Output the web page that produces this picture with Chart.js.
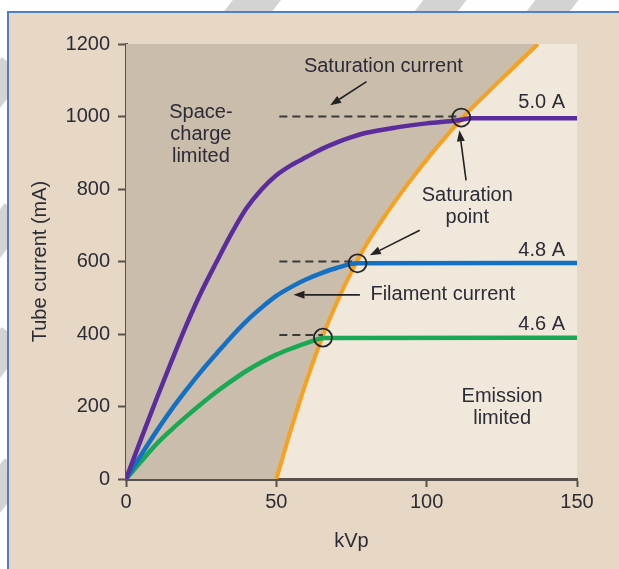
<!DOCTYPE html>
<html><head><meta charset="utf-8">
<script src="https://cdn.jsdelivr.net/npm/chart.js@4.4.1/dist/chart.umd.min.js"></script>
<style>
html,body{margin:0;padding:0;background:#fff;}
#wrap{position:relative;width:619px;height:569px;overflow:hidden;background:#fff;}
.wm{position:absolute;background:#d3d3d3;transform:rotate(38deg);}
#frame{position:absolute;left:7px;top:11px;width:640px;height:600px;background:#e6d8c4;border-left:2px solid #4f7fc4;border-top:2px solid #4f7fc4;}
canvas{position:absolute;left:0;top:0;}
</style></head><body>
<div id="wrap">
  <div class="wm" style="left:238px;top:-40px;width:38px;height:80px"></div>
  <div class="wm" style="left:428px;top:-40px;width:34px;height:80px"></div>
  <div class="wm" style="left:540px;top:-40px;width:34px;height:80px"></div>
  <div class="wm" style="left:-20px;top:60px;width:30px;height:60px"></div>
  <div class="wm" style="left:-20px;top:205px;width:30px;height:70px"></div>
  <div class="wm" style="left:-20px;top:330px;width:30px;height:60px"></div>
  <div class="wm" style="left:-20px;top:460px;width:30px;height:70px"></div>
  <div id="frame"></div>
  <canvas id="c" width="619" height="569"></canvas>
</div>
<script>
// ---- data ----
const xTicks = [0, 50, 100, 150];
const yTicks = [0, 200, 400, 600, 800, 1000, 1200];

const kvp50A = [0, 5, 10, 15, 20, 25, 30, 35, 40, 45, 50, 55, 60, 65, 70, 75, 80, 90, 100, 110, 115, 150];
const mA50A  = [0, 110, 218, 322, 423, 515, 597, 676, 746, 798, 838, 866, 888, 910, 928, 943, 955, 970, 981, 989, 995, 995];

const kvp48A = [0, 5, 10, 15, 20, 25, 30, 35, 40, 45, 50, 55, 60, 65, 70, 77, 150];
const mA48A  = [0, 66, 130, 190, 245, 297, 345, 392, 435, 472, 505, 530, 551, 568, 582, 595, 596];

const kvp46A = [0, 5, 10, 15, 20, 25, 30, 35, 40, 45, 50, 55, 60, 66, 150];
const mA46A  = [0, 48, 95, 135, 172, 207, 240, 270, 298, 322, 343, 360, 375, 389, 390];

const kvpEmission = [50, 55, 60, 65, 70, 75, 80, 85, 90, 95, 100, 105, 111.5, 120, 130, 137];
const mAEmission  = [0, 140, 270, 385, 485, 572, 648, 712, 772, 828, 881, 931, 993, 1064, 1144, 1200];

const spaceChargeKvp = [0, 50.5];
const spaceChargeMA  = [0, 0];

const saturationLevels = [1000, 600, 397];
const saturationStartKvp = 51;
const satPointKvp = [111.5, 77, 65.5];
const satPointMA  = [997, 595, 390];

const arrowFrom = [[80, 1096], [113.1, 824], [97.7, 686], [77.8, 508]];
const arrowTo   = [[67.9, 1031], [110.9, 962], [81.1, 617], [55.7, 508]];

const noteText  = [['Saturation current'], ['Space-', 'charge', 'limited'], ['5.0 A'], ['Saturation', 'point'], ['4.8 A'], ['Filament current'], ['4.6 A'], ['Emission', 'limited']];
const noteKvp   = [85.6, 24.9, 146, 113.5, 146, 81.3, 146, 125.1];
const noteMA    = [1139, 951, 1040, 752, 631, 510, 427, 197];
const noteAlign = ['center', 'center', 'right', 'center', 'right', 'left', 'right', 'center'];

// ---- helpers ----
const pts = (xs, ys) => xs.map((x, i) => ({x: x, y: ys[i]}));
const FONT = '"Liberation Sans", Arial, Helvetica, sans-serif';
const TXT = '#2c2c36';
const AX = '#57524c';

const bgPlugin = {
  id: 'plotBg',
  beforeDraw(chart) {
    const {ctx, chartArea: a} = chart;
    ctx.save();
    ctx.fillStyle = '#f1e8dc';
    ctx.fillRect(a.left, a.top, a.right - a.left, a.bottom - a.top);
    ctx.restore();
  }
};

const notePlugin = {
  id: 'notes',
  afterDatasetsDraw(chart) {
    const {ctx} = chart;
    const xs = chart.scales.x, ys = chart.scales.y;
    ctx.save();
    ctx.strokeStyle = '#222';
    ctx.fillStyle = '#222';
    ctx.lineWidth = 1.6;
    arrowFrom.forEach((f, i) => {
      const x1 = xs.getPixelForValue(f[0]), y1 = ys.getPixelForValue(f[1]);
      const x2 = xs.getPixelForValue(arrowTo[i][0]), y2 = ys.getPixelForValue(arrowTo[i][1]);
      const ang = Math.atan2(y2 - y1, x2 - x1);
      const hl = 11, hw = 4;
      const bx = x2 - hl * Math.cos(ang), by = y2 - hl * Math.sin(ang);
      ctx.beginPath(); ctx.moveTo(x1, y1); ctx.lineTo(bx, by); ctx.stroke();
      ctx.beginPath();
      ctx.moveTo(x2, y2);
      ctx.lineTo(bx + hw * Math.sin(ang), by - hw * Math.cos(ang));
      ctx.lineTo(bx - hw * Math.sin(ang), by + hw * Math.cos(ang));
      ctx.closePath(); ctx.fill();
    });
    ctx.font = '20px ' + FONT;
    ctx.fillStyle = TXT;
    ctx.textBaseline = 'middle';
    const lh = 22;
    noteText.forEach((lines, i) => {
      const x = xs.getPixelForValue(noteKvp[i]);
      const yc = ys.getPixelForValue(noteMA[i]);
      ctx.textAlign = noteAlign[i];
      lines.forEach((t, j) => {
        ctx.fillText(t, x, yc + (j - (lines.length - 1) / 2) * lh);
      });
    });
    ctx.restore();
  }
};

const curve = (label, xs, ys, color, order) => ({
  label, data: pts(xs, ys), borderColor: color, borderWidth: 4.5,
  pointRadius: 0, cubicInterpolationMode: 'monotone', fill: false, order
});

const dashed = saturationLevels.map((lvl, i) => ({
  label: 'Saturation current ' + i,
  data: [{x: saturationStartKvp, y: lvl}, {x: satPointKvp[i], y: lvl}],
  borderColor: '#3a3a3a', borderWidth: 2, borderDash: [8, 5],
  pointRadius: 0, fill: false, order: 2
}));

new Chart(document.getElementById('c'), {
  type: 'line',
  data: {
    datasets: [
      {label: 'Saturation point', data: pts(satPointKvp, satPointMA), showLine: false,
       pointRadius: 9, pointBorderWidth: 1.8, pointBorderColor: '#262626',
       pointBackgroundColor: 'rgba(0,0,0,0)', order: 0},
      curve('5.0 A', kvp50A, mA50A, '#5b2d9c', 1),
      curve('4.8 A', kvp48A, mA48A, '#1370c2', 1),
      curve('4.6 A', kvp46A, mA46A, '#19a853', 1),
      ...dashed,
      {label: 'Emission limit', data: pts(kvpEmission, mAEmission), borderColor: '#f7a11c',
       borderWidth: 4, pointRadius: 0, cubicInterpolationMode: 'monotone',
       fill: 'end', backgroundColor: '#cabdac', order: 3},
      {label: 'Space-charge', data: pts(spaceChargeKvp, spaceChargeMA), borderWidth: 0,
       borderColor: 'rgba(0,0,0,0)', pointRadius: 0, fill: 'end', backgroundColor: '#cabdac', order: 4}
    ]
  },
  options: {
    responsive: false, animation: false, devicePixelRatio: 1,
    layout: {padding: {top: 44, right: 42, left: 0, bottom: 0}},
    plugins: {legend: {display: false}, tooltip: {enabled: false}},
    scales: {
      x: {
        type: 'linear', min: 0, max: 150,
        afterBuildTicks(s) { s.ticks = xTicks.map(v => ({value: v})); },
        afterFit(s) { s.height = 90; },
        grid: {display: true, drawOnChartArea: false, drawTicks: true, tickLength: 8, tickColor: AX, tickWidth: 2},
        border: {display: true, color: AX, width: 3},
        ticks: {font: {family: FONT, size: 20}, color: TXT, padding: 3, maxRotation: 0, autoSkip: false,
                callback: v => String(v)},
        title: {display: true, text: 'kVp', font: {family: FONT, size: 20}, color: TXT, padding: {top: 0, bottom: 16}}
      },
      y: {
        type: 'linear', min: 0, max: 1200,
        afterBuildTicks(s) { s.ticks = yTicks.map(v => ({value: v})); },
        afterFit(s) { s.width = 126; },
        grid: {display: true, drawOnChartArea: false, drawTicks: true, tickLength: 8, tickColor: AX, tickWidth: 2},
        border: {display: true, color: AX, width: 3},
        ticks: {font: {family: FONT, size: 20}, color: TXT, padding: 8, autoSkip: false,
                callback: v => String(v)},
        title: {display: true, text: 'Tube current (mA)', font: {family: FONT, size: 20}, color: TXT, padding: {top: 28, bottom: 0}}
      }
    }
  },
  plugins: [bgPlugin, notePlugin]
});
</script>
</body></html>
